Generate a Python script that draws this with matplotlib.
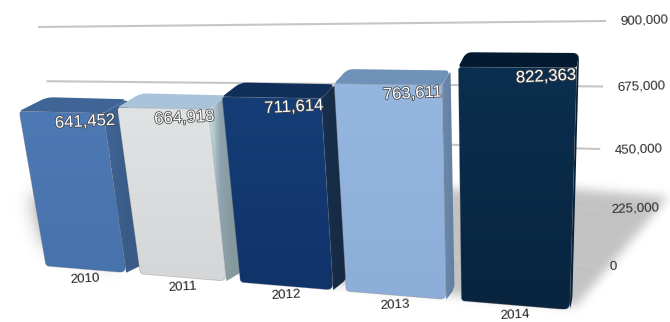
import numpy as np
import matplotlib
matplotlib.use("Agg")
import matplotlib.pyplot as plt
import matplotlib.patheffects as pe
from matplotlib.colors import LinearSegmentedColormap
from matplotlib.patches import PathPatch
from matplotlib.path import Path
from matplotlib.transforms import Transform

plt.rcParams["font.family"] = ["Liberation Sans", "DejaVu Sans"]

# Chart data
years = ["2010", "2011", "2012", "2013", "2014"]
values = [641452, 664918, 711614, 763611, 822363]
axis_ticks = [0, 225000, 450000, 675000, 900000]
axis_labels = ["0", "225,000", "450,000", "675,000", "900,000"]

# Bar layout along the front plane
bar_left = [0, 1.04, 2.07, 3.08, 4.1]
bar_width = 0.89
label_anchor = [0.70, 0.66, 0.65, 0.65, 0.665]

# Per-bar shading: front top/bottom, top face, side face stops
front_top = ["#4d79b4", "#e0e3e4", "#153e76", "#94b6df", "#0b2f4e"]
front_bottom = ["#4872ab", "#d4d6d7", "#10336a", "#8caed8", "#08243f"]
top_face = ["#3e6596", "#a9c4da", "#102e57", "#7092b8", "#031a30"]
side_face = [["#3f6699", "#3a5c88", "#38588a"],
             ["#d3e8ea", "#8fa4b0", "#86999f", "#84989f"],
             ["#16304f", "#17293f"],
             ["#6b89ac", "#64809f"],
             ["#06223c", "#041a2e"]]


class Homography(Transform):
    """Plane-to-plane projective map fitted through four control points."""
    input_dims = output_dims = 2

    def __init__(self, src, dst):
        super().__init__()
        A, b = [], []
        for (u, v), (x, y) in zip(src, dst):
            A.append([u, v, 1, 0, 0, 0, -u * x, -v * x])
            A.append([0, 0, 0, u, v, 1, -u * y, -v * y])
            b += [x, y]
        self.m = np.append(np.linalg.solve(np.array(A, float), np.array(b, float)), 1).reshape(3, 3)

    def transform_non_affine(self, pts):
        pts = np.asarray(pts, float)
        h = np.c_[pts, np.ones(len(pts))] @ self.m.T
        return h[:, :2] / h[:, 2:]


# Front plane of the bars: (bar position, value) -> pixels
front = Homography([(0, 0), (5, 0), (0, 8e5), (5, 8e5)],
                   [(46, 266), (571, 310), (12, 70), (578, 75)])
# Back wall carrying the gridlines: (0..1, value) -> pixels
wall = Homography([(0, 0), (1, 0), (0, 9e5), (1, 9e5)],
                  [(70, 232), (595, 266), (38, 27), (606, 21)])


def depth(p):
    """Push a point on the front plane back along the bar depth."""
    x, y = p
    return np.array([x + 0.046 * (625 - x), y - 16 + 0.018 * y])


def rounded_path(corners, r):
    verts, codes = [], []
    n = len(corners)
    for i in range(n):
        prev_, cur, nxt = (np.asarray(corners[(i + k) % n], float) for k in (-1, 0, 1))
        rad = r[i]
        a = cur + (prev_ - cur) / np.linalg.norm(prev_ - cur) * rad
        b = cur + (nxt - cur) / np.linalg.norm(nxt - cur) * rad
        verts += [a, cur, b]
        codes += [Path.MOVETO if i == 0 else Path.LINETO, Path.CURVE3, Path.CURVE3]
    verts.append(verts[0])
    codes.append(Path.CLOSEPOLY)
    return Path(verts, codes)


fig = plt.figure(figsize=(6.7, 3.22), dpi=100)
ax = fig.add_axes([0, 0, 1, 1])
ax.axis("off")


def gradient_fill(path, colors, vertical=True, z=3):
    cmap = LinearSegmentedColormap.from_list("shade", colors)
    ramp = np.linspace(0, 1, 64)
    grid = ramp[:, None] if vertical else ramp[None, :]
    bb = path.get_extents()
    im = ax.imshow(grid, cmap=cmap, vmin=0, vmax=1, aspect="auto",
                   extent=(bb.x0, bb.x1, bb.y1, bb.y0), zorder=z, interpolation="bilinear")
    clip = PathPatch(path, transform=ax.transData, fc="none", ec="none")
    ax.add_patch(clip)
    im.set_clip_path(clip)


def blur(a, sigma):
    k = np.exp(-0.5 * (np.arange(-40, 41) / sigma) ** 2)
    k /= k.sum()
    a = np.apply_along_axis(lambda r: np.convolve(r, k, mode="same"), 0, a)
    return np.apply_along_axis(lambda r: np.convolve(r, k, mode="same"), 1, a)


# Soft floor shadow: a wide blob on the left and a cleaner wedge on the right
W, H, pad = 670, 322, 60
xx, yy = np.meshgrid(np.arange(-pad, W + pad), np.arange(-pad, H + pad))
grid_pts = np.c_[xx.ravel(), yy.ravel()]


def soft_polygon(poly, sigma):
    mask = Path(poly).contains_points(grid_pts).reshape(xx.shape).astype(float)
    return blur(mask, sigma)[pad:-pad, pad:-pad]


left_blob = soft_polygon([(32, 195), (120, 195), (120, 262), (48, 245)], 10)
right_wedge = soft_polygon([(300, 190), (570, 188), (668, 196), (575, 306), (300, 280)], 5)
rgba = np.zeros((H, W, 4))
rgba[..., 3] = np.maximum(left_blob * 0.5, right_wedge * 0.24)
ax.imshow(rgba, extent=(0, W, H, 0), aspect="auto", zorder=0.5, interpolation="bilinear")

# Gridlines and value axis labels on the back wall
for tick, label in zip(axis_ticks, axis_labels):
    ax.plot([0, 1], [tick, tick], transform=wall + ax.transData,
            color="#c6c6c6", lw=1.5, solid_capstyle="butt", zorder=1)
    x, y = wall.transform_non_affine([(1, tick)])[0]
    ax.text(x + 14, y + 1, label, fontsize=9.6, color="#2b2b2b", ha="left", va="center",
            rotation=2, rotation_mode="anchor", zorder=6)

# Bars
for i, (year, value) in enumerate(zip(years, values)):
    left, right = bar_left[i], bar_left[i] + bar_width
    (fbl, fbr, ftr, ftl) = front.transform_non_affine(
        [(left, 0), (right, 0), (right, value), (left, value)])
    btl, btr, bbr = depth(ftl), depth(ftr), depth(fbr)

    side = rounded_path([ftr, btr, bbr, fbr], [0, 4, 5, 0])
    gradient_fill(side, side_face[i], vertical=False, z=3 + i * 0.1)

    top = rounded_path([ftl, btl, btr, ftr], [3, 6, 6, 3])
    ax.add_patch(PathPatch(top, fc=top_face[i], ec="none", zorder=3 + i * 0.1 + 0.01))

    face = rounded_path([ftl, ftr, fbr, fbl], [3, 3, 7, 3])
    gradient_fill(face, [front_top[i], front_bottom[i]], z=3 + i * 0.1 + 0.02)
    ax.add_patch(PathPatch(face, fc="none", ec=(0.45, 0.45, 0.45, 0.35), lw=0.6,
                           zorder=3 + i * 0.1 + 0.03))

    # Value printed near the top right of the front face
    lx, ly = front.transform_non_affine([(left + label_anchor[i], value)])[0]
    ax.text(lx, ly + 9, f"{value:,}", fontsize=12, color="white", ha="center", va="center",
            rotation=3, rotation_mode="anchor", zorder=8,
            path_effects=[pe.withStroke(linewidth=1.1, foreground="#454545")])

    # Year below the bar
    cx, cy = front.transform_non_affine([(left + bar_width / 2, 0)])[0]
    ax.text(cx, cy + 9.5, year, fontsize=9.6, color="#222222", ha="center", va="center",
            rotation=3, rotation_mode="anchor", zorder=8)

ax.set_xlim(0, W)
ax.set_ylim(H, 0)
fig.savefig("out.png", dpi=100, facecolor="white")
